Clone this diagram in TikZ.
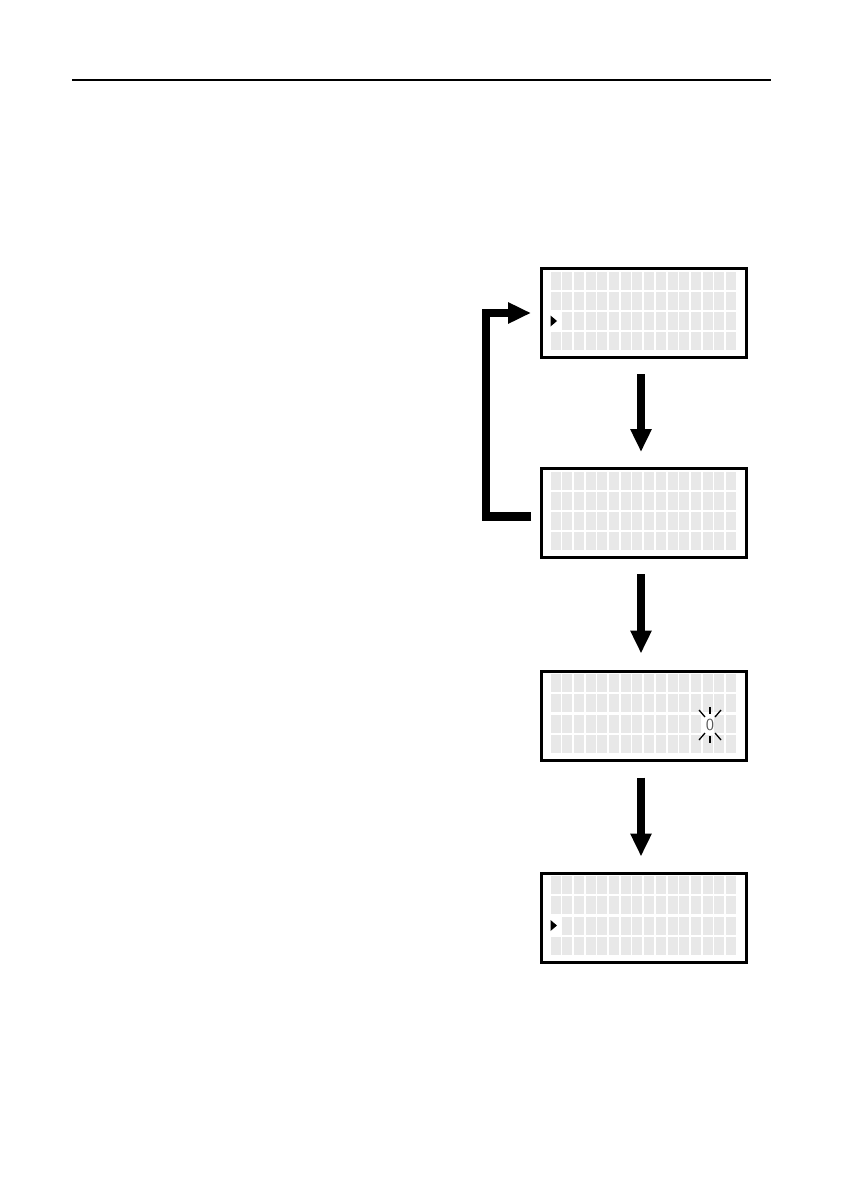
\documentclass[tikz,border=0pt]{standalone}
\usepackage{tikz}
\usetikzlibrary{calc,arrows.meta}
\def\px{0.024941cm}
% one lcd screen: 16 x 4 character cells inside the node
\newcommand{\lcdcells}[1]{%
  \foreach \c in {0,...,15}
    \foreach \r in {0,...,3}
      \fill[cell] ($(#1.north west)+(10.5+11.7*\c,4.5+20.3*\r)$) rectangle ++(10,18);}
\newcommand{\cursor}[1]{%
  \fill[white] ($(#1.north west)+(10.5,45.1)$) rectangle ++(10,18);
  \fill[black] ($(#1.north west)+(10.5,48.5)$) -- ++(0,11) -- ++(6.5,-5.5) -- cycle;}

\begin{document}
\begin{tikzpicture}[x=\px,y=-\px]
  \tikzset{screen/.style={draw,line width=3*\px,minimum width=205*\px,minimum height=89*\px,inner sep=0pt}}
  \tikzset{cell/.style={fill=black!9}}
  \tikzset{flow/.style={line width=8.5*\px,-{Triangle[width=20*\px,length=23*\px]}}}
  \tikzset{spark/.style={line width=1.3*\px,black}}

  \useasboundingbox (0,0) rectangle (842,1191);

  \def\Xs{644}

  % header rule
  \draw[line width=1.5*\px] (72,80) -- (771,80);

  % screens
  \node[screen] (s1) at (\Xs,313) {};
  \node[screen] (s2) at (\Xs,513) {};
  \node[screen] (s3) at (\Xs,715.5) {};
  \node[screen] (s4) at (\Xs,917.5) {};
  \lcdcells{s1}
  \lcdcells{s2}
  \lcdcells{s3}
  \lcdcells{s4}

  % cursor marks
  \cursor{s1}
  \cursor{s4}

  % blinking digit
  \fill[white] ($(s3.north west)+(162.6,45.1)$) rectangle ++(10,18);
  \node[font=\fontsize{12}{12}\sffamily,text=black!65,inner sep=0pt] (d) at (710,725) {0};
  \draw[spark] (699,710) -- (705,717);
  \draw[spark] (710,707) -- (710,714);
  \draw[spark] (721,710) -- (715,717);
  \draw[spark] (699,740) -- (705,733);
  \draw[spark] (710,736) -- (710,743);
  \draw[spark] (721,740) -- (715,733);

  % flow
  \draw[flow,shorten <=15*\px,shorten >=15*\px] ([xshift=-3*\px]s1.south) -- ([xshift=-3*\px]s2.north);
  \draw[flow,shorten <=15*\px,shorten >=16*\px] ([xshift=-3*\px]s2.south) -- ([xshift=-3*\px]s3.north);
  \draw[flow,shorten <=16*\px,shorten >=15*\px] ([xshift=-3*\px]s3.south) -- ([xshift=-3*\px]s4.north);
  \draw[flow] ([shift={(-9,3.5)}]s2.west) -- ++(-45,0) |- ([xshift=-9*\px]s1.west);

\end{tikzpicture}
\end{document}
